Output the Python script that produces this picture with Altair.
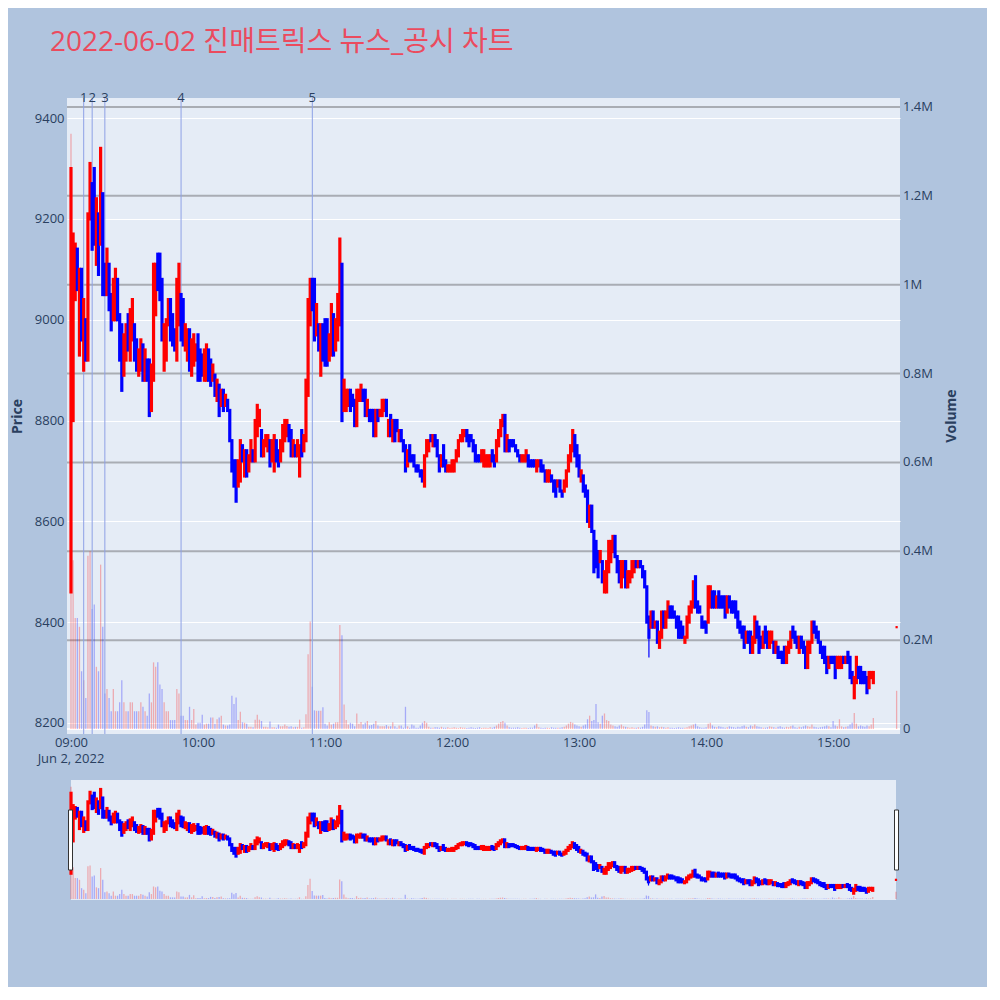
"""Intraday candlestick chart with volume and news markers"""

import altair as alt
import pandas as pd

DAY = "2022-06-02"
TITLE = "2022-06-02 진매트릭스 뉴스_공시 차트"

# one candle per minute from 09:00 to 15:19
open_price = [
    8460, 8800, 9040, 9140, 8930, 9100, 8900, 9000, 8920, 9200,
    9270, 9300, 9110, 9210, 9150, 9250, 9110, 9050, 9110, 9050,
    9000, 9000, 9080, 9010, 8990, 8890, 8920, 9010, 8920, 8960,
    8990, 8960, 8890, 8900, 8950, 8880, 8920, 8920, 8820, 8880,
    9010, 9130, 9130, 9080, 8900, 8920, 8990, 9040, 9010, 8980,
    8920, 8990, 9050, 9040, 8940, 8920, 8980, 8890, 8910, 8920,
    8970, 8940, 8930, 8880, 8880, 8940, 8920, 8880, 8890, 8840,
    8870, 8830, 8860, 8830, 8840, 8820, 8760, 8720, 8720, 8670,
    8680, 8750, 8690, 8740, 8700, 8720, 8740, 8720, 8770, 8790,
    8780, 8730, 8750, 8740, 8760, 8720, 8700, 8760, 8740, 8720,
    8740, 8760, 8770, 8790, 8780, 8730, 8750, 8730, 8690, 8780,
    8740, 8760, 8850, 8990, 9080, 9080, 8970, 8990, 8890, 8990,
    9000, 9000, 8920, 8930, 9010, 8940, 8960, 8990, 9110, 8820,
    8820, 8830, 8860, 8850, 8840, 8790, 8840, 8840, 8860, 8860,
    8810, 8820, 8820, 8820, 8770, 8820, 8810, 8810, 8820, 8840,
    8770, 8810, 8760, 8800, 8800, 8760, 8780, 8760, 8750, 8710,
    8750, 8730, 8730, 8710, 8710, 8700, 8700, 8670, 8730, 8740,
    8770, 8750, 8770, 8760, 8730, 8710, 8750, 8720, 8700, 8700,
    8700, 8700, 8720, 8730, 8760, 8760, 8770, 8780, 8770, 8770,
    8760, 8750, 8730, 8730, 8720, 8710, 8710, 8710, 8710, 8740,
    8730, 8720, 8750, 8770, 8790, 8810, 8740, 8760, 8760, 8760,
    8750, 8740, 8730, 8720, 8720, 8720, 8730, 8720, 8720, 8720,
    8700, 8710, 8720, 8710, 8700, 8680, 8680, 8690, 8680, 8680,
    8670, 8680, 8660, 8660, 8670, 8700, 8720, 8740, 8770, 8750,
    8730, 8680, 8690, 8670, 8660, 8590, 8630, 8580, 8560, 8540,
    8520, 8520, 8460, 8460, 8500, 8520, 8540, 8570, 8530, 8520,
    8470, 8490, 8520, 8470, 8480, 8490, 8500, 8520, 8510, 8520,
    8510, 8500, 8470, 8410, 8390, 8420, 8390, 8400, 8350, 8370,
    8420, 8390, 8410, 8430, 8430, 8420, 8410, 8410, 8400, 8390,
    8360, 8370, 8400, 8420, 8430, 8490, 8440, 8430, 8410, 8400,
    8400, 8400, 8430, 8460, 8460, 8430, 8460, 8450, 8450, 8450,
    8420, 8450, 8440, 8440, 8440, 8420, 8400, 8390, 8390, 8360,
    8380, 8380, 8340, 8360, 8400, 8390, 8370, 8350, 8390, 8380,
    8350, 8360, 8360, 8340, 8350, 8340, 8340, 8350, 8320, 8340,
    8350, 8390, 8380, 8370, 8340, 8370, 8360, 8350, 8310, 8340,
    8360, 8400, 8390, 8380, 8360, 8350, 8350, 8330, 8310, 8330,
    8330, 8330, 8310, 8310, 8310, 8330, 8320, 8340, 8330, 8300,
    8250, 8280, 8310, 8310, 8300, 8300, 8290, 8270, 8290, 8280,
]
close_price = [
    9300, 9170, 9150, 9060, 9100, 8960, 9040, 8920, 9210, 9310,
    9140, 9150, 9240, 9090, 9340, 9050, 9050, 9140, 9020, 8980,
    9080, 9100, 9000, 8920, 8860, 8970, 8990, 8940, 9020, 9040,
    8920, 8900, 8940, 8960, 8880, 8940, 8880, 8810, 8910, 9110,
    9110, 9060, 9040, 8960, 8990, 9000, 9040, 8960, 8950, 8940,
    9080, 9110, 8960, 8950, 8990, 8980, 8900, 8960, 8970, 8950,
    8880, 8880, 8890, 8940, 8950, 8880, 8870, 8910, 8850, 8880,
    8810, 8860, 8820, 8850, 8820, 8760, 8700, 8670, 8640, 8720,
    8760, 8720, 8740, 8690, 8730, 8760, 8720, 8800, 8830, 8820,
    8730, 8760, 8770, 8770, 8710, 8760, 8770, 8720, 8710, 8760,
    8790, 8800, 8800, 8760, 8730, 8760, 8730, 8760, 8750, 8730,
    8770, 8880, 9040, 9080, 9020, 8960, 9030, 8940, 8990, 8920,
    8910, 8910, 8970, 9030, 8930, 9000, 9050, 9160, 8800, 8880,
    8860, 8860, 8820, 8830, 8790, 8860, 8860, 8870, 8840, 8810,
    8840, 8800, 8800, 8770, 8820, 8800, 8820, 8840, 8840, 8810,
    8800, 8770, 8800, 8760, 8780, 8780, 8760, 8740, 8700, 8740,
    8720, 8720, 8710, 8700, 8700, 8690, 8680, 8730, 8760, 8760,
    8760, 8770, 8750, 8730, 8700, 8730, 8710, 8700, 8710, 8710,
    8720, 8720, 8740, 8760, 8770, 8780, 8780, 8760, 8750, 8760,
    8740, 8720, 8720, 8720, 8740, 8740, 8730, 8730, 8730, 8720,
    8710, 8760, 8780, 8800, 8810, 8740, 8770, 8740, 8750, 8750,
    8740, 8730, 8720, 8730, 8730, 8740, 8710, 8710, 8710, 8710,
    8720, 8720, 8700, 8700, 8680, 8700, 8700, 8680, 8660, 8650,
    8680, 8660, 8650, 8680, 8700, 8730, 8750, 8780, 8730, 8710,
    8690, 8700, 8660, 8650, 8600, 8630, 8580, 8500, 8510, 8490,
    8540, 8480, 8500, 8520, 8560, 8560, 8570, 8530, 8500, 8480,
    8520, 8520, 8470, 8500, 8500, 8520, 8520, 8510, 8520, 8510,
    8490, 8470, 8400, 8370, 8420, 8390, 8400, 8360, 8380, 8420,
    8390, 8420, 8440, 8410, 8410, 8410, 8390, 8370, 8370, 8370,
    8370, 8410, 8430, 8440, 8480, 8430, 8420, 8420, 8390, 8390,
    8380, 8470, 8470, 8430, 8430, 8450, 8430, 8430, 8430, 8410,
    8450, 8430, 8420, 8420, 8410, 8390, 8380, 8370, 8350, 8380,
    8360, 8340, 8370, 8410, 8370, 8340, 8350, 8380, 8360, 8350,
    8380, 8380, 8340, 8360, 8330, 8330, 8320, 8320, 8350, 8360,
    8380, 8370, 8360, 8350, 8370, 8350, 8340, 8310, 8360, 8360,
    8400, 8380, 8370, 8360, 8340, 8330, 8320, 8300, 8330, 8320,
    8320, 8290, 8330, 8330, 8330, 8320, 8330, 8320, 8290, 8280,
    8290, 8330, 8290, 8280, 8280, 8280, 8260, 8300, 8300, 8300,
]
# traded volume per minute, thousands of shares
volume_k = [
    1340, 380, 250, 250, 230, 130, 110, 70, 390, 400,
    270, 280, 140, 130, 370, 230, 80, 90, 70, 40,
    90, 40, 40, 60, 110, 60, 40, 40, 60, 60,
    40, 40, 40, 60, 50, 40, 30, 80, 60, 150,
    140, 150, 100, 90, 60, 40, 40, 20, 20, 20,
    90, 80, 30, 30, 20, 20, 50, 20, 45, 10,
    14, 14, 32, 10, 12, 12, 26, 26, 12, 22,
    26, 30, 10, 8, 8, 10, 75, 56, 71, 20,
    39, 15, 14, 12, 5, 5, 4, 21, 32, 21,
    18, 5, 5, 4, 17, 4, 4, 3, 10, 6,
    6, 10, 7, 5, 6, 4, 5, 5, 21, 3,
    4, 33, 168, 242, 95, 42, 41, 41, 41, 49,
    12, 8, 15, 10, 12, 15, 15, 234, 211, 55,
    20, 10, 14, 12, 6, 35, 12, 16, 10, 14,
    18, 8, 9, 12, 18, 8, 6, 6, 6, 9,
    6, 6, 15, 6, 3, 8, 8, 3, 50, 6,
    3, 10, 8, 3, 3, 8, 14, 18, 14, 5,
    3, 3, 4, 4, 3, 5, 3, 3, 4, 2,
    3, 4, 3, 2, 4, 3, 3, 2, 3, 4,
    3, 2, 3, 4, 2, 3, 3, 2, 4, 3,
    5, 8, 12, 16, 18, 14, 8, 4, 3, 3,
    3, 4, 3, 2, 3, 3, 2, 3, 3, 8,
    12, 4, 3, 2, 3, 3, 2, 4, 3, 3,
    3, 3, 4, 5, 8, 12, 16, 14, 10, 8,
    6, 5, 8, 10, 22, 30, 18, 20, 56, 15,
    12, 30, 35, 20, 18, 10, 8, 6, 5, 8,
    10, 6, 5, 4, 3, 4, 3, 3, 4, 3,
    5, 10, 42, 38, 8, 6, 5, 6, 4, 5,
    4, 3, 4, 3, 3, 2, 3, 4, 3, 3,
    3, 4, 6, 8, 10, 12, 6, 4, 3, 3,
    4, 12, 14, 8, 5, 4, 6, 5, 4, 3,
    4, 6, 5, 4, 3, 5, 4, 6, 8, 5,
    4, 8, 6, 10, 6, 5, 4, 3, 3, 4,
    6, 5, 4, 3, 5, 6, 4, 3, 5, 4,
    6, 8, 4, 3, 5, 4, 6, 8, 6, 5,
    10, 5, 4, 3, 4, 5, 6, 8, 6, 4,
    18, 8, 6, 22, 6, 4, 5, 6, 10, 14,
    36, 12, 6, 8, 6, 5, 8, 6, 10, 25,
]

wick_time = ["13:33"]
wick_low = [8330]
wick_high = [8410]

# closing auction
auction_time = ["15:30"]
auction_price = [8390]
auction_volume_k = [86]

news_time = ["09:06", "09:10", "09:16", "09:52", "10:54"]
news_label = ["1", "2", "3", "4", "5"]

price_ticks = [8200, 8400, 8600, 8800, 9000, 9200, 9400]
volume_ticks = [0, 200000, 400000, 600000, 800000, 1000000, 1200000, 1400000]
hour_ticks = [9, 10, 11, 12, 13, 14, 15]

PRICE_MIN, PRICE_MAX = 8178, 9440
VOL_MIN, VOL_MAX = -11250, 1420300
W, H, SLIDER_H = 833, 636, 120

TEXT = "#2a3f5f"
FONT = "Open Sans, Noto Sans CJK KR, sans-serif"


def stamp(hhmm):
    return pd.Timestamp(f"{DAY} {hhmm}")


def dt(h, m=0, s=0):
    return alt.DateTime(year=2022, month=6, date=2, hours=h, minutes=m, seconds=s)


candles = pd.DataFrame({
    "time": pd.date_range(f"{DAY} 09:00", periods=len(open_price), freq="min"),
    "open": open_price,
    "close": close_price,
    "volume": [v * 1000 for v in volume_k],
})
auction = pd.DataFrame({
    "time": [stamp(t) for t in auction_time],
    "open": auction_price,
    "close": auction_price,
    "volume": [v * 1000 for v in auction_volume_k],
})
bars = pd.concat([candles, auction], ignore_index=True)
bars["dir"] = ["up" if c >= o else "down" for o, c in zip(bars["open"], bars["close"])]
candles["dir"] = bars["dir"][:len(candles)].values

wicks = pd.DataFrame({
    "time": [stamp(t) for t in wick_time], "low": wick_low, "high": wick_high})
news = pd.DataFrame({"time": [stamp(t) for t in news_time], "label": news_label})
date_note = pd.DataFrame({"time": [stamp("09:00")], "label": ["Jun 2, 2022"]})
vol_grid = pd.DataFrame({"volume": volume_ticks})
dummy = pd.DataFrame({"a": [0]})

# the volume axis shares the plot with price: map volume onto the price range
VOL_TO_PRICE = (
    f"{PRICE_MIN} + (datum.volume - ({VOL_MIN})) * {PRICE_MAX - PRICE_MIN} / {VOL_MAX - VOL_MIN}"
)
VOL_ZERO = f"{PRICE_MIN} + {-VOL_MIN} * {PRICE_MAX - PRICE_MIN} / {VOL_MAX - VOL_MIN}"

updown = alt.Scale(domain=["up", "down"], range=["#FF0000", "#0000FF"])
y_scale = alt.Scale(domain=[PRICE_MIN, PRICE_MAX], nice=False, zero=False)
x_main = alt.Scale(domain=[dt(8, 58, 7), dt(15, 31, 36)])
x_slider = alt.Scale(domain=[dt(8, 58, 6), dt(15, 31, 54)])

x_axis = alt.Axis(
    values=[dt(h) for h in hour_ticks], format="%H:%M",
    grid=False, ticks=False, domain=False, labelPadding=2,
    labelFont=FONT, labelFontSize=13, labelColor=TEXT, labelFlush=False,
)
price_axis = alt.Axis(
    values=price_ticks, format="d", orient="left",
    grid=True, gridColor="white", gridWidth=1, ticks=False, domain=False,
    labelPadding=3, labelFont=FONT, labelFontSize=13, labelColor=TEXT,
    title="Price", titleFont=FONT, titleFontSize=14, titleFontWeight="bold",
    titleColor=TEXT, titleAngle=270, titleX=-50, titleY=318,
    titleAlign="center", titleBaseline="middle",
)


def volume_bars(x_scale, axis):
    return alt.Chart(bars).transform_calculate(
        vol_y=VOL_TO_PRICE, vol_zero=VOL_ZERO
    ).mark_rule(strokeWidth=1.3, opacity=0.28).encode(
        x=alt.X("time:T", scale=x_scale, axis=axis, title=None),
        y=alt.Y("vol_y:Q", scale=y_scale, axis=price_axis if axis else None),
        y2="vol_zero:Q",
        color=alt.Color("dir:N", scale=updown, legend=None),
    )


def candle_marks(x_scale):
    body = alt.Chart(candles).mark_rule(strokeWidth=3.2, strokeCap="square").encode(
        x=alt.X("time:T", scale=x_scale),
        y=alt.Y("open:Q", scale=y_scale),
        y2="close:Q",
        color=alt.Color("dir:N", scale=updown, legend=None),
    )
    wick = alt.Chart(wicks).mark_rule(strokeWidth=1.2, color="#0000FF").encode(
        x=alt.X("time:T", scale=x_scale),
        y=alt.Y("low:Q", scale=y_scale),
        y2="high:Q",
    )
    close_dot = alt.Chart(auction).mark_square(size=5, opacity=1, color="#FF0000").encode(
        x=alt.X("time:T", scale=x_scale),
        y=alt.Y("close:Q", scale=y_scale),
    )
    return [wick, body, close_dot]


grid_base = alt.Chart(vol_grid).transform_calculate(vol_y=VOL_TO_PRICE)
vol_gridlines = grid_base.mark_rule(strokeWidth=2).encode(
    y=alt.Y("vol_y:Q", scale=y_scale),
    color=alt.condition("datum.volume == 0", alt.value("white"), alt.value("#a9adb4")),
)
vol_labels = grid_base.transform_calculate(
    label="datum.volume == 0 ? '0' : format(datum.volume / 1000000, '.1~f') + 'M'"
).mark_text(align="left", baseline="middle", fontSize=13, font=FONT, color=TEXT).encode(
    x=alt.value(W + 3), y=alt.Y("vol_y:Q", scale=y_scale), text="label:N")
vol_title = alt.Chart(dummy).mark_text(
    angle=270, fontSize=14, font=FONT, fontWeight="bold", color=TEXT, baseline="middle"
).encode(x=alt.value(W + 52), y=alt.value(H / 2), text=alt.value("Volume"))

news_rules = alt.Chart(news).mark_rule(strokeWidth=1, color="#8ea1e6").encode(
    x=alt.X("time:T", scale=x_main))
news_text = alt.Chart(news).mark_text(
    baseline="middle", fontSize=13, font=FONT, color=TEXT
).encode(x=alt.X("time:T", scale=x_main), y=alt.value(0), text="label:N")
date_text = alt.Chart(date_note).mark_text(
    baseline="middle", fontSize=13, font=FONT, color=TEXT
).encode(x=alt.X("time:T", scale=x_main), y=alt.value(H + 25), text="label:N")

main = alt.layer(
    vol_gridlines,
    volume_bars(x_main, x_axis),
    news_rules,
    *candle_marks(x_main),
    news_text,
    vol_labels,
    vol_title,
    date_text,
).properties(
    width=W, height=H,
    view=alt.ViewBackground(fill="#E5ECF6", stroke=None),
)

slider_bg = alt.Chart(dummy).mark_rect(color="#E5ECF6").encode(
    x=alt.value(4), x2=alt.value(W - 4), y=alt.value(0), y2=alt.value(SLIDER_H))
left_handle = alt.Chart(dummy).mark_rect(
    fill="white", stroke="#333333", strokeWidth=1
).encode(x=alt.value(1.5), x2=alt.value(5.5), y=alt.value(30), y2=alt.value(90))
right_handle = alt.Chart(dummy).mark_rect(
    fill="white", stroke="#333333", strokeWidth=1
).encode(x=alt.value(W - 5.5), x2=alt.value(W - 1.5), y=alt.value(30), y2=alt.value(90))

slider = alt.layer(
    slider_bg,
    volume_bars(x_slider, None),
    *candle_marks(x_slider),
    left_handle,
    right_handle,
).properties(width=W, height=SLIDER_H)

chart = alt.vconcat(main, slider, spacing=14).properties(
    title=alt.TitleParams(
        TITLE, anchor="start", fontSize=28, font=FONT, fontWeight="normal",
        color="#EB4B5E", dx=40, offset=35,
    ),
    background="#B0C4DE",
    padding={"left": 2, "top": 21, "right": 28, "bottom": 87},
).configure_view(stroke=None)

chart.save("out.html", embed_options={"renderer": "svg", "actions": False})
